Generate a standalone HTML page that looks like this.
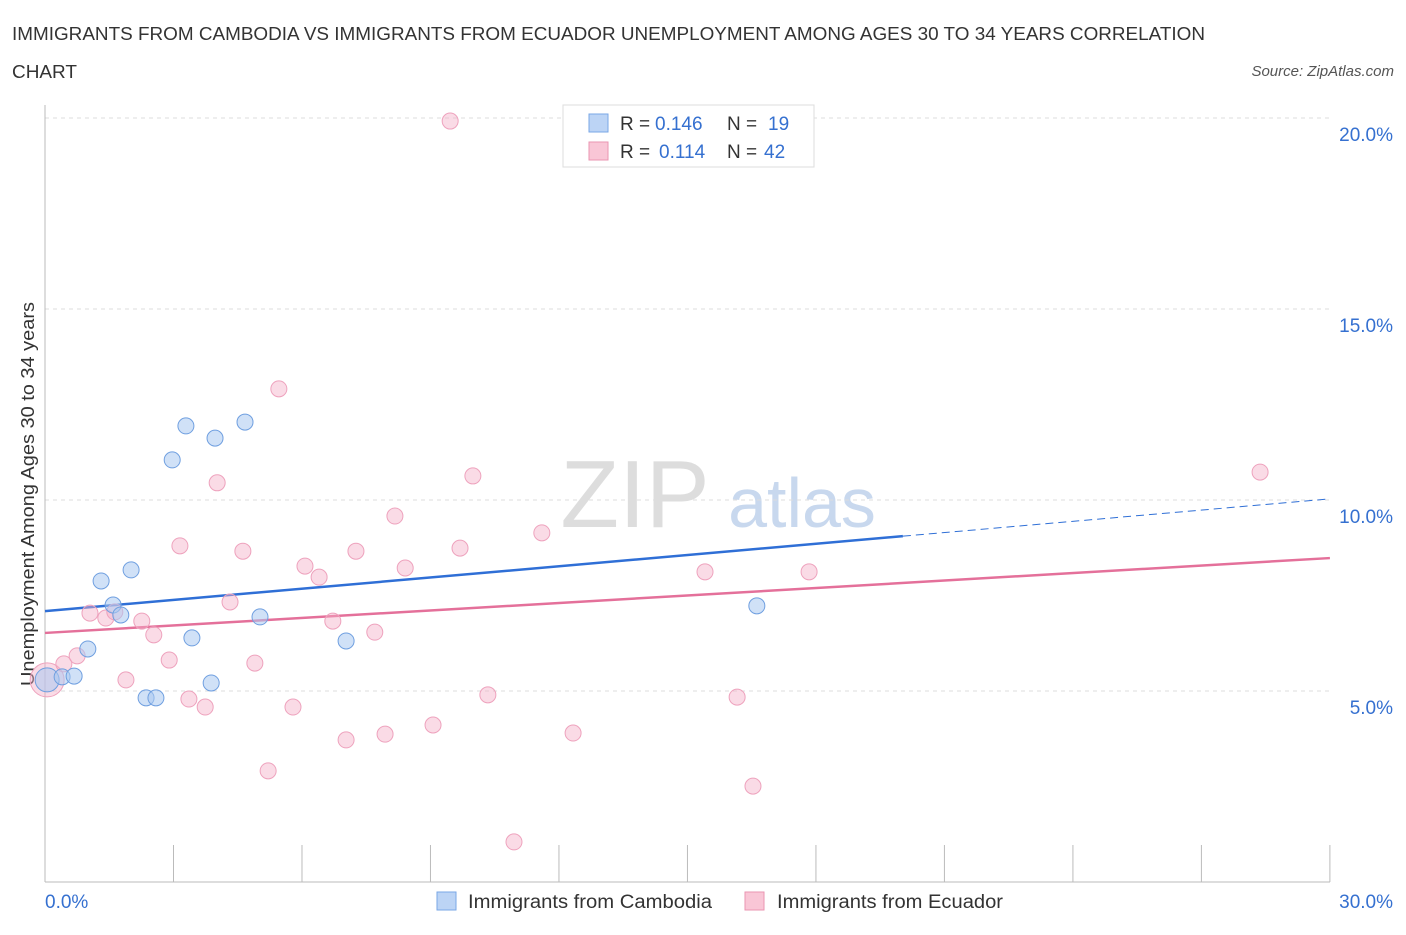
<!DOCTYPE html>
<html><head><meta charset="utf-8"><style>
body{margin:0;background:#fff;font-family:"Liberation Sans",sans-serif;}
svg text{font-family:"Liberation Sans",sans-serif;}
</style></head><body>
<svg width="1406" height="930">
<text x="12" y="40" font-size="18" fill="#333" textLength="1193" lengthAdjust="spacingAndGlyphs">IMMIGRANTS FROM CAMBODIA VS IMMIGRANTS FROM ECUADOR UNEMPLOYMENT AMONG AGES 30 TO 34 YEARS CORRELATION</text>
<text x="12" y="78" font-size="18" fill="#333" textLength="65" lengthAdjust="spacingAndGlyphs">CHART</text>
<text x="1394" y="76" font-size="15" fill="#555" font-style="italic" text-anchor="end">Source: ZipAtlas.com</text>
<text x="635" y="527" font-size="96" fill="#ddd" font-family="Liberation Serif" text-anchor="middle">ZIP</text>
<text x="802" y="527" font-size="70" fill="#c8d8ee" text-anchor="middle">atlas</text>
<text transform="translate(34,494) rotate(-90)" font-size="18" fill="#333" text-anchor="middle" textLength="384" lengthAdjust="spacingAndGlyphs">Unemployment Among Ages 30 to 34 years</text>
<g id="grid"></g><g id="lines"></g><g id="pts"></g>
<g>
<rect x="563" y="105" width="251" height="62" fill="#fff" stroke="#ddd"/>
<rect x="589" y="114" width="19" height="18" fill="#bcd4f5" stroke="#7aa7e6"/>
<rect x="589" y="142" width="19" height="18" fill="#f9c6d6" stroke="#ea95b2"/>
<text x="620" y="130" font-size="19" fill="#333">R =</text>
<text x="655" y="130" font-size="19" fill="#3570d0">0.146</text>
<text x="727" y="130" font-size="19" fill="#333">N =</text>
<text x="768" y="130" font-size="19" fill="#3570d0">19</text>
<text x="620" y="158" font-size="19" fill="#333">R =</text>
<text x="659" y="158" font-size="19" fill="#3570d0">0.114</text>
<text x="727" y="158" font-size="19" fill="#333">N =</text>
<text x="764" y="158" font-size="19" fill="#3570d0">42</text>
</g>
<g>
<rect x="437" y="892" width="19" height="18" fill="#bcd4f5" stroke="#7aa7e6"/>
<text x="468" y="908" font-size="19" fill="#333" textLength="244" lengthAdjust="spacingAndGlyphs">Immigrants from Cambodia</text>
<rect x="745" y="892" width="19" height="18" fill="#f9c6d6" stroke="#ea95b2"/>
<text x="777" y="908" font-size="19" fill="#333" textLength="226" lengthAdjust="spacingAndGlyphs">Immigrants from Ecuador</text>
</g>
</svg>
<script>
const yTicks=[5,10,15,20];
const xTickLabels=["0.0%","30.0%"];
const blueX=[0.05,0.40,0.68,1.00,1.31,1.59,1.77,2.01,2.36,2.59,2.97,3.29,3.43,3.88,3.97,4.67,5.02,7.03,16.62];
const blueY=[5.29,5.37,5.39,6.10,7.88,7.25,6.99,8.17,4.82,4.82,11.05,11.94,6.39,5.21,11.62,12.04,6.94,6.31,7.23];
const pinkX=[0.05,0.44,0.75,1.05,1.42,1.63,1.89,2.26,2.54,2.90,3.15,3.36,3.74,4.02,4.32,4.62,4.90,5.21,5.46,5.79,6.07,6.40,6.72,7.03,7.26,7.70,7.94,8.17,8.41,9.06,9.46,9.69,9.99,10.34,10.95,11.60,12.33,15.41,16.16,16.53,17.84,28.37];
const pinkY=[5.29,5.71,5.92,7.04,6.91,7.07,5.29,6.83,6.47,5.81,8.80,4.79,4.58,10.45,7.33,8.66,5.73,2.91,12.91,4.58,8.27,7.98,6.83,3.72,8.66,6.54,3.87,9.58,8.22,4.11,19.92,8.74,10.63,4.90,1.05,9.14,3.90,8.12,4.84,2.51,8.12,10.73];
const blueLine=[7.09,10.03], blueSolidEnd=20.03;
const pinkLine=[6.52,8.48];
const NS="http://www.w3.org/2000/svg";
const X=v=>45+v*42.83, Y=v=>882-v*38.2;
function mk(t,a,p){const e=document.createElementNS(NS,t);for(const k in a)e.setAttribute(k,a[k]);p.appendChild(e);return e;}
const g=document.getElementById('grid');
yTicks.forEach(t=>{
 const l=mk('line',{x1:45,x2:1330,y1:Y(t),y2:Y(t),stroke:'#ddd','stroke-dasharray':'4,4'},g);
 
 
 const tx=mk('text',{x:1393,y:Y(t)+23,'font-size':19,fill:'#3570d0','text-anchor':'end'},g);
 tx.textContent=t.toFixed(1)+'%';
 
 
});
const ax=mk('line',{x1:45,x2:45,y1:105,y2:882,stroke:'#bbb'},g);


const bx=mk('line',{x1:45,x2:1330,y1:882,y2:882,stroke:'#bbb'},g);


for(let i=0;i<=10;i++){const t=mk('line',{x1:X(i*3),x2:X(i*3),y1:845,y2:882,stroke:'#bbb'},g);
 
 }
[[0,45,'start'],[30,1393,'end']].forEach((d,i)=>{const t=mk('text',{x:d[1],y:908,'font-size':19,fill:'#3570d0','text-anchor':d[2]},g);t.textContent=xTickLabels[i];
 
 });
const L=document.getElementById('lines');
let e=mk('line',{x1:X(0),y1:Y(blueLine[0]),x2:X(blueSolidEnd),y2:Y(blueLine[0]+(blueLine[1]-blueLine[0])*blueSolidEnd/30),stroke:'#2f6fd6','stroke-width':2.5},L);


e=mk('line',{x1:X(blueSolidEnd),y1:Y(blueLine[0]+(blueLine[1]-blueLine[0])*blueSolidEnd/30),x2:X(30),y2:Y(blueLine[1]),stroke:'#2f6fd6','stroke-width':1,'stroke-dasharray':'8,5'},L);


e=mk('line',{x1:X(0),y1:Y(pinkLine[0]),x2:X(30),y2:Y(pinkLine[1]),stroke:'#e4709a','stroke-width':2.5},L);


const P=document.getElementById('pts');
pinkX.forEach((x,i)=>{const c=mk('circle',{cx:X(x),cy:Y(pinkY[i]),r:i==0?17:8,fill:'rgba(245,175,200,0.45)',stroke:'#eea2bd','stroke-width':1},P);
 
 });
blueX.forEach((x,i)=>{const c=mk('circle',{cx:X(x),cy:Y(blueY[i]),r:i==0?12:8,fill:'rgba(170,200,240,0.55)',stroke:'#6f9fe0','stroke-width':1},P);
 
 });
</script>
</body></html>
